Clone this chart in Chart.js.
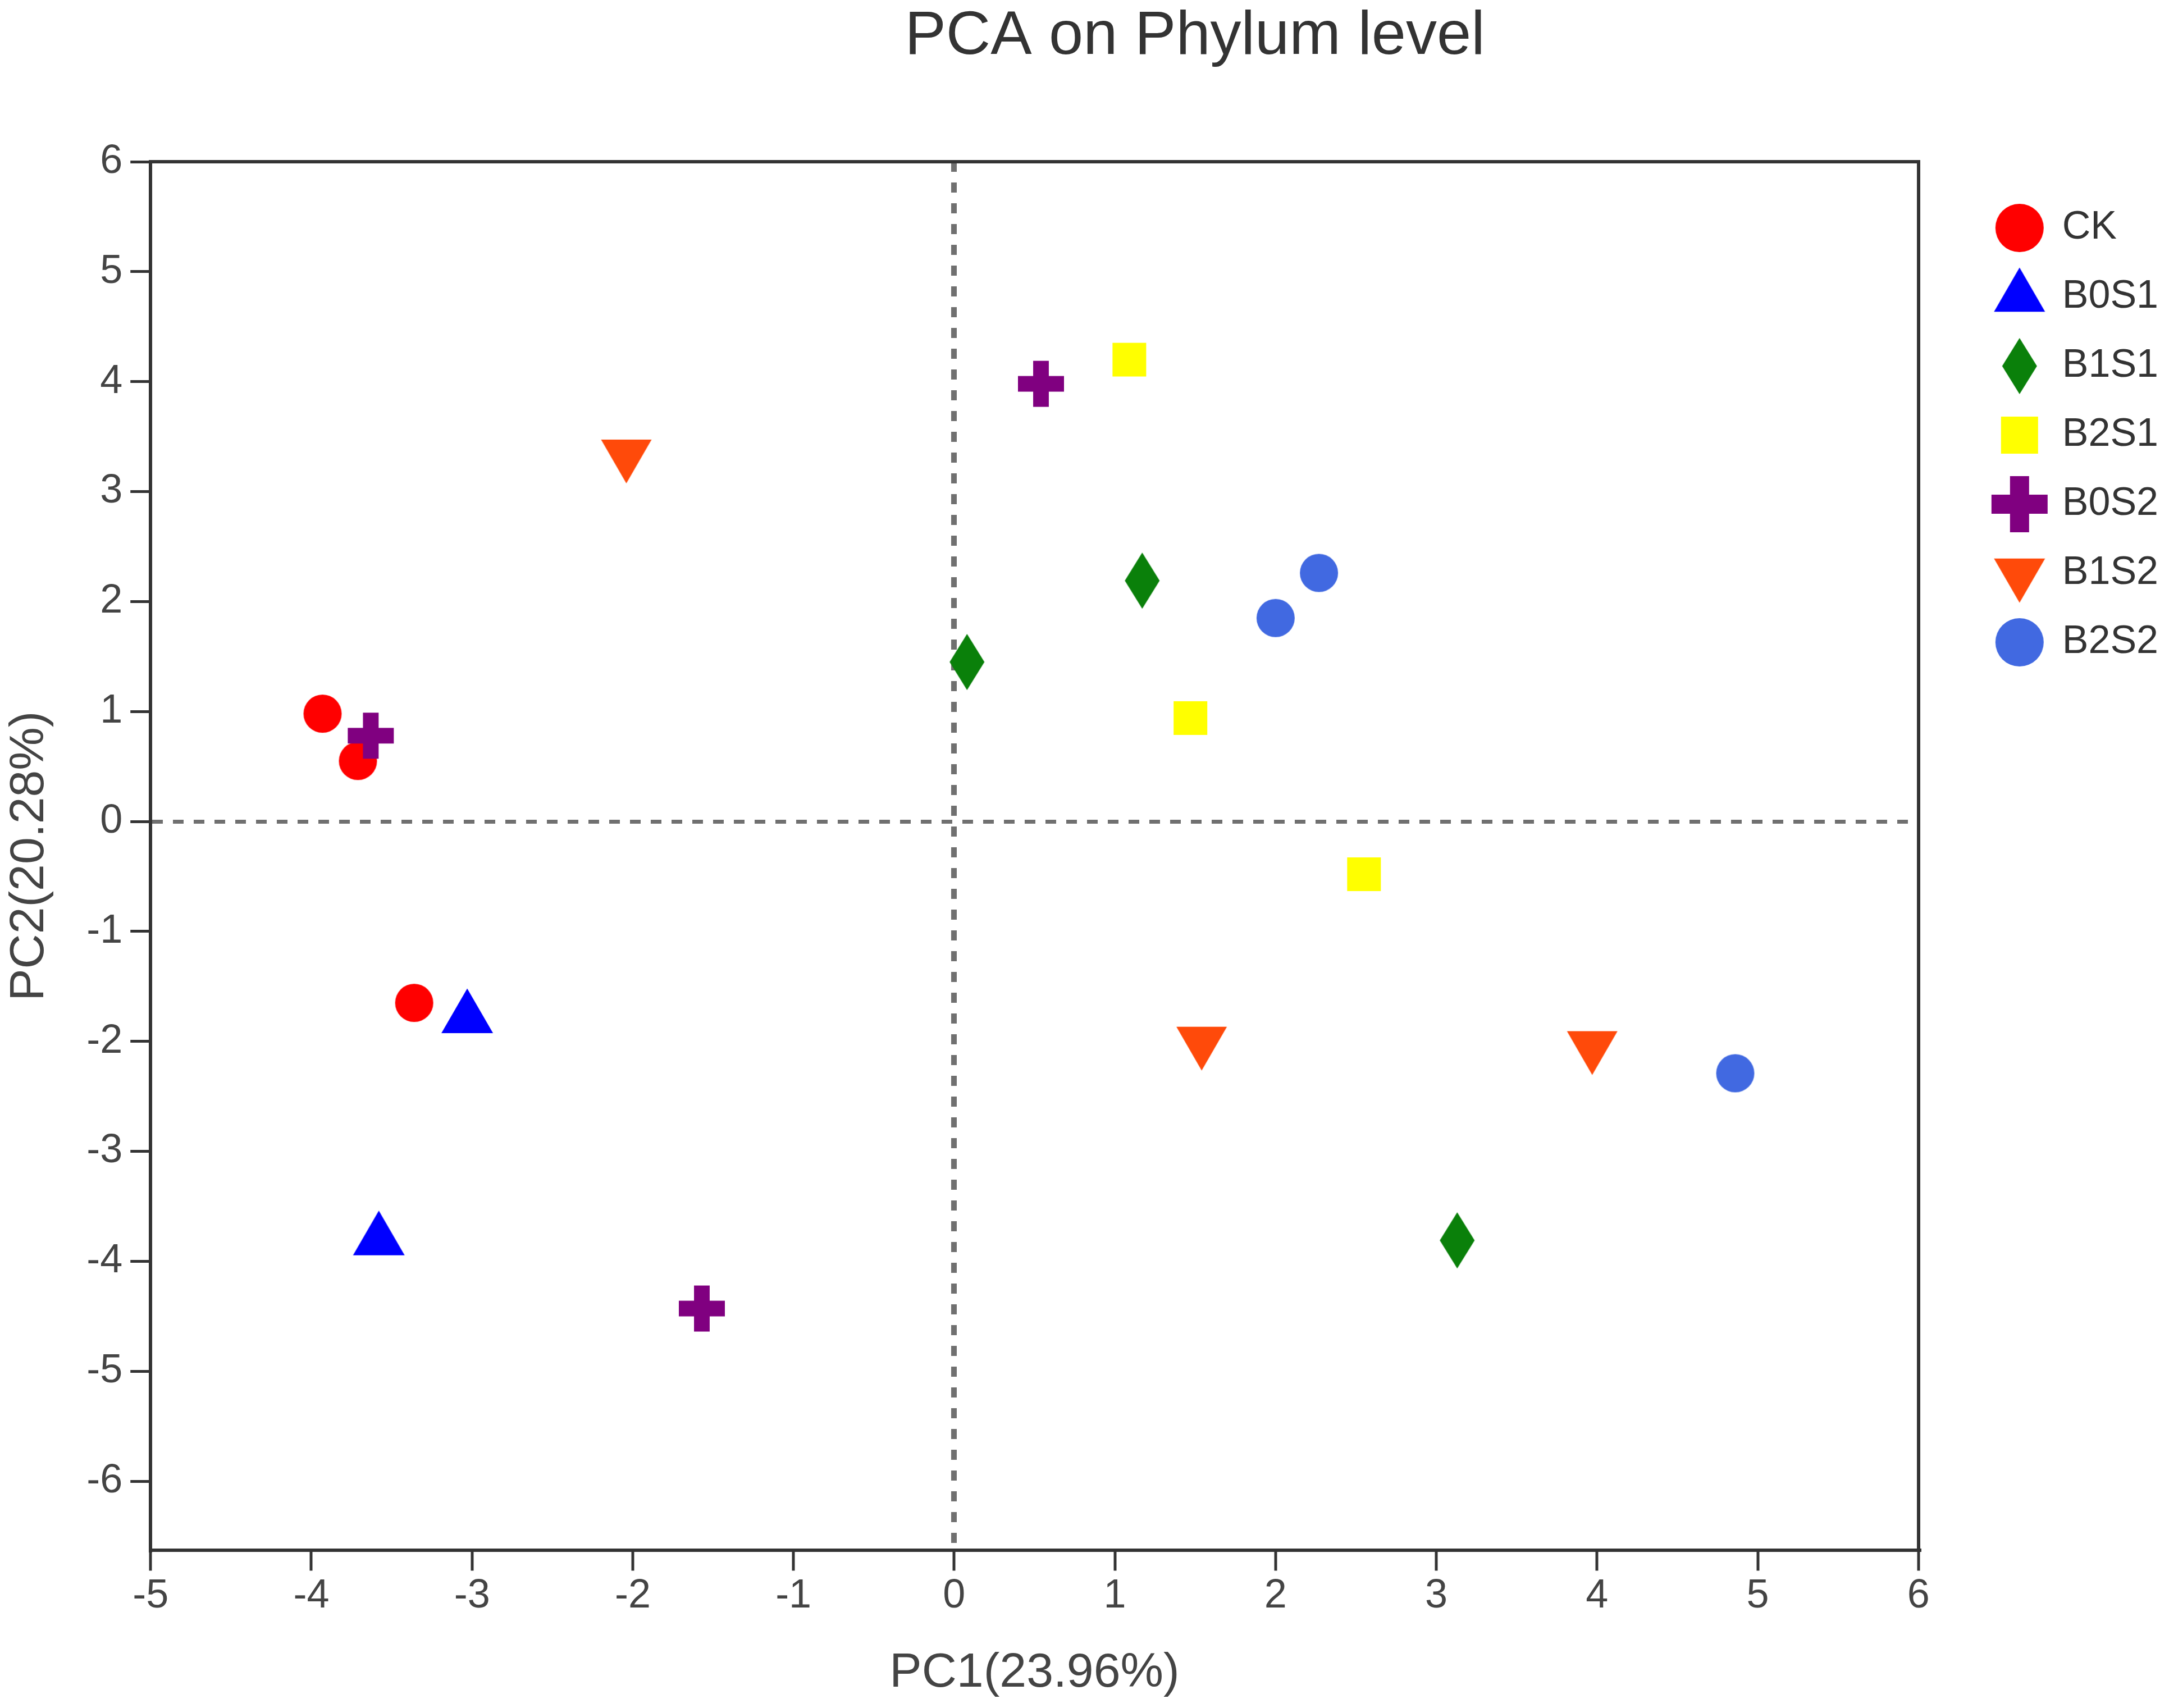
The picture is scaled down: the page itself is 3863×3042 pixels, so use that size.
<!DOCTYPE html>
<html>
<head>
<meta charset="utf-8">
<script src="https://cdn.jsdelivr.net/npm/chart.js@4.4.1/dist/chart.umd.min.js"></script>
<style>
html,body{margin:0;padding:0;background:#ffffff;}
#wrap{width:3863px;height:3042px;position:relative;}
</style>
</head>
<body>
<div id="wrap"><canvas id="c"></canvas></div>
<script>
// ---- data ----
const groupNames = ['CK', 'B0S1', 'B1S1', 'B2S1', 'B0S2', 'B1S2', 'B2S2'];
const CK_pc1   = [-3.93, -3.71, -3.36];
const CK_pc2   = [0.98, 0.55, -1.65];
const B0S1_pc1 = [-3.03, -3.58];
const B0S1_pc2 = [-1.79, -3.81];
const B1S1_pc1 = [0.08, 1.17, 3.13];
const B1S1_pc2 = [1.45, 2.19, -3.81];
const B2S1_pc1 = [1.09, 1.47, 2.55];
const B2S1_pc2 = [4.20, 0.94, -0.48];
const B0S2_pc1 = [0.54, -3.63, -1.57];
const B0S2_pc2 = [3.98, 0.78, -4.43];
const B1S2_pc1 = [-2.04, 1.54, 3.97];
const B1S2_pc2 = [3.34, -2.00, -2.04];
const B2S2_pc1 = [2.27, 2.00, 4.86];
const B2S2_pc2 = [2.26, 1.85, -2.29];
const xTickValues = [-5, -4, -3, -2, -1, 0, 1, 2, 3, 4, 5, 6];
const yTickValues = [-6, -5, -4, -3, -2, -1, 0, 1, 2, 3, 4, 5, 6];
const xLabel = 'PC1(23.96%)';
const yLabel = 'PC2(20.28%)';
const chartTitle = 'PCA on Phylum level';

const groupPC1 = [CK_pc1, B0S1_pc1, B1S1_pc1, B2S1_pc1, B0S2_pc1, B1S2_pc1, B2S2_pc1];
const groupPC2 = [CK_pc2, B0S1_pc2, B1S1_pc2, B2S1_pc2, B0S2_pc2, B1S2_pc2, B2S2_pc2];

// ---- styles ----
const groupColors = ['#ff0000', '#0000ff', '#0a800a', '#ffff00', '#800080', '#ff4a0a', '#4169e1'];
const groupShapes = ['circle', 'triUp', 'diamond', 'square', 'plus', 'triDown', 'circle'];
const FONT = "'Liberation Sans', Arial, Helvetica, sans-serif";

function mk(w, h, draw) {
  const c = document.createElement('canvas');
  c.width = Math.ceil(w); c.height = Math.ceil(h);
  const g = c.getContext('2d');
  draw(g, c.width, c.height);
  return c;
}
function marker(shape, color, s) {
  const m = 4;
  if (shape === 'circle') {
    return mk(s + m, s + m, (g, w, h) => { g.fillStyle = color; g.beginPath(); g.arc(w / 2, h / 2, s / 2, 0, Math.PI * 2); g.fill(); });
  }
  if (shape === 'square') {
    return mk(s + m, s + m, (g, w, h) => { g.fillStyle = color; g.fillRect(w / 2 - s / 2, h / 2 - s / 2, s, s); });
  }
  if (shape === 'diamond') {
    const dw = s * 0.62, dh = s;
    return mk(dw + m, dh + m, (g, w, h) => { g.fillStyle = color; g.beginPath(); g.moveTo(w / 2, h / 2 - dh / 2); g.lineTo(w / 2 + dw / 2, h / 2); g.lineTo(w / 2, h / 2 + dh / 2); g.lineTo(w / 2 - dw / 2, h / 2); g.closePath(); g.fill(); });
  }
  if (shape === 'plus') {
    const t = s * 0.34;
    return mk(s + m, s + m, (g, w, h) => { g.fillStyle = color; g.fillRect(w / 2 - s / 2, h / 2 - t / 2, s, t); g.fillRect(w / 2 - t / 2, h / 2 - s / 2, t, s); });
  }
  if (shape === 'triUp' || shape === 'triDown') {
    const th = s * Math.sqrt(3) / 2;
    const H = th * 4 / 3 + m;
    return mk(s + m, H, (g, w, h) => {
      const cy = h / 2, cx = w / 2;
      g.fillStyle = color; g.beginPath();
      if (shape === 'triUp') {
        g.moveTo(cx, cy - th * 2 / 3); g.lineTo(cx + s / 2, cy + th / 3); g.lineTo(cx - s / 2, cy + th / 3);
      } else {
        g.moveTo(cx, cy + th * 2 / 3); g.lineTo(cx + s / 2, cy - th / 3); g.lineTo(cx - s / 2, cy - th / 3);
      }
      g.closePath(); g.fill();
    });
  }
}
const plotSizes   = {circle: 68, square: 60, diamond: 100, plus: 82, triUp: 92, triDown: 90};
const legendSizes = {circle: 86, square: 66, diamond: 100, plus: 100, triUp: 91, triDown: 91};
const plotMarkers = groupNames.map((n, i) => marker(groupShapes[i], groupColors[i], plotSizes[groupShapes[i]]));
const legendMarkers = groupNames.map((n, i) => marker(groupShapes[i], groupColors[i], legendSizes[groupShapes[i]]));

const datasets = groupNames.map((name, i) => ({
  label: name,
  data: groupPC1[i].map((v, k) => ({x: v, y: groupPC2[i][k]})),
  pointStyle: plotMarkers[i],
  pointRadius: 34,
  pointHoverRadius: 34,
  backgroundColor: groupColors[i],
  borderColor: groupColors[i],
  pointBorderWidth: 0,
  order: groupNames.length - i,
  xAxisID: 'x',
  yAxisID: 'y'
}));

const zeroLine = (ctx) => (ctx.tick && ctx.tick.value === 0) ? '#707070' : 'rgba(0,0,0,0)';

const titleShift = {
  id: 'titleShift',
  afterLayout(chart) {
    const t = chart.titleBlock;
    if (t) { t.left += 201; t.right += 201; }
  }
};

new Chart(document.getElementById('c'), {
  type: 'scatter',
  data: {datasets},
  plugins: [titleShift],
  options: {
    responsive: true,
    maintainAspectRatio: false,
    devicePixelRatio: 1,
    animation: false,
    events: [],
    layout: {padding: {left: 0, right: 9, top: 0, bottom: 0}},
    plugins: {
      tooltip: {enabled: false},
      title: {
        display: true, text: chartTitle, color: '#333333',
        font: {family: FONT, size: 110, weight: 'normal', lineHeight: 1.2},
        padding: {top: 0, bottom: 288 - 110 * 1.2}
      },
      legend: {
        display: true, position: 'right', align: 'start', fullSize: false,
        title: {display: true, text: '', font: {size: 25, lineHeight: 1.2}, padding: 0},
        labels: {
          usePointStyle: true,
          pointStyleWidth: 82,
          padding: 53,
          color: '#333333',
          font: {family: FONT, size: 70},
          generateLabels(chart) {
            const items = Chart.defaults.plugins.legend.labels.generateLabels(chart);
            items.sort((a, b) => a.datasetIndex - b.datasetIndex);
            items.forEach(it => { it.pointStyle = legendMarkers[it.datasetIndex]; it.rotation = 0; it.fontColor = '#333333'; it.lineWidth = 0; });
            return items;
          }
        }
      }
    },
    scales: {
      x: {
        type: 'linear', position: 'bottom', min: xTickValues[0], max: xTickValues[xTickValues.length - 1],
        afterBuildTicks: (s) => { s.ticks = xTickValues.map(v => ({value: v})); },
        ticks: {color: '#444444', font: {family: FONT, size: 72}, padding: 3, maxRotation: 0, autoSkip: false},
        grid: {display: true, drawOnChartArea: true, drawTicks: true, tickLength: 36, tickWidth: 5, tickColor: '#333333', color: zeroLine, lineWidth: 10},
        border: {display: true, color: '#333333', width: 6, dash: [18, 19]},
        title: {display: true, text: xLabel, color: '#444444', font: {family: FONT, size: 86, lineHeight: 1.2}, padding: {top: 39, bottom: 10}}
      },
      y: {
        type: 'linear', position: 'left', min: -6.63, max: yTickValues[yTickValues.length - 1],
        afterBuildTicks: (s) => { s.ticks = yTickValues.map(v => ({value: v})); },
        ticks: {color: '#444444', font: {family: FONT, size: 72}, padding: 14, autoSkip: false},
        grid: {display: true, drawOnChartArea: true, drawTicks: true, tickLength: 36, tickWidth: 5, tickColor: '#333333', color: zeroLine, lineWidth: 7},
        border: {display: true, color: '#333333', width: 6, dash: [19, 18]},
        title: {display: true, text: yLabel, color: '#444444', font: {family: FONT, size: 86, lineHeight: 1.2}, padding: {top: 2, bottom: 35}}
      },
      x2: {
        type: 'linear', position: 'top', display: true,
        ticks: {display: false},
        grid: {display: false, drawTicks: false, drawOnChartArea: false},
        border: {display: true, color: '#333333', width: 6}
      },
      y2: {
        type: 'linear', position: 'right', display: true,
        ticks: {display: false},
        grid: {display: false, drawTicks: false, drawOnChartArea: false},
        border: {display: true, color: '#333333', width: 6},
        afterFit: (s) => { s.width = 86; }
      }
    }
  }
});
</script>
</body>
</html>
